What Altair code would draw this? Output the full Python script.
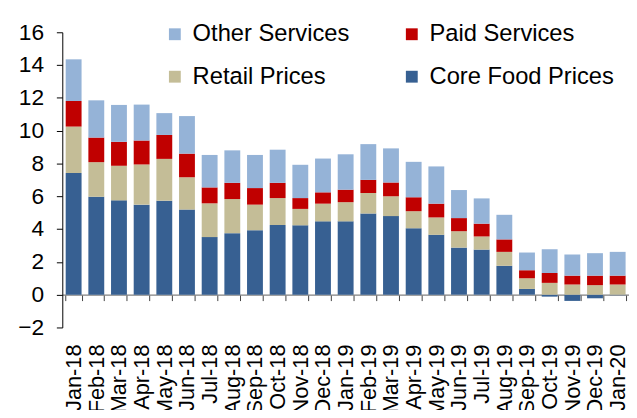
import altair as alt
import pandas as pd

months = ["Jan-18", "Feb-18", "Mar-18", "Apr-18", "May-18", "Jun-18", "Jul-18",
          "Aug-18", "Sep-18", "Oct-18", "Nov-18", "Dec-18", "Jan-19", "Feb-19",
          "Mar-19", "Apr-19", "May-19", "Jun-19", "Jul-19", "Aug-19", "Sep-19",
          "Oct-19", "Nov-19", "Dec-19", "Jan-20"]
core = [7.42, 5.97, 5.75, 5.49, 5.73, 5.19, 3.51, 3.75, 3.93, 4.25, 4.23, 4.47, 4.47,
        4.95, 4.79, 4.05, 3.65, 2.87, 2.75, 1.76, 0.35, -0.12, -0.38, -0.22, -0.03]
retail = [2.83, 2.11, 2.11, 2.45, 2.55, 1.97, 2.06, 2.08, 1.56, 1.64, 1.00, 1.08, 1.17,
          1.25, 1.21, 1.04, 1.06, 1.00, 0.80, 0.85, 0.65, 0.72, 0.62, 0.58, 0.62]
paid = [1.56, 1.50, 1.46, 1.46, 1.46, 1.44, 0.97, 0.99, 1.01, 0.93, 0.66, 0.69, 0.76,
        0.80, 0.84, 0.85, 0.84, 0.80, 0.78, 0.76, 0.49, 0.60, 0.54, 0.58, 0.54]
other = [2.54, 2.27, 2.25, 2.19, 1.33, 2.29, 1.98, 1.98, 2.02, 2.02, 2.03, 2.06, 2.16,
         2.18, 2.08, 2.16, 2.27, 1.71, 1.54, 1.50, 1.08, 1.45, 1.29, 1.37, 1.45]

series_names = ["Core Food Prices", "Retail Prices", "Paid Services", "Other Services"]
series_vals = [core, retail, paid, other]
# legend fills column by column: column 1 = Other, Retail; column 2 = Paid, Core
legend_order = ["Other Services", "Retail Prices", "Paid Services", "Core Food Prices"]
legend_colors = ["#95B3D7", "#C4BD97", "#C00000", "#376092"]

rows = []
for k, (name, vals) in enumerate(zip(series_names, series_vals)):
    for m, v in zip(months, vals):
        rows.append({"month": m, "series": name, "value": v, "ord": k})
df = pd.DataFrame(rows)

W, H = 574, 299
FONT = "Liberation Sans"

bars = alt.Chart(df).mark_bar().encode(
    x=alt.X("month:N", sort=months,
            scale=alt.Scale(paddingInner=0.3, paddingOuter=0.15),
            axis=alt.Axis(title=None, labelAngle=-90, labelFontSize=22, labelFont=FONT,
                          labelColor="#000000", offset=-H * 2 / 18, labelPadding=44,
                          tickBand="extent", tickSize=6, tickColor="#404040",
                          domainColor="#808080", domainWidth=1.3, labelOverlap=False)),
    y=alt.Y("value:Q", stack="zero",
            scale=alt.Scale(domain=[-2, 16], nice=False),
            axis=alt.Axis(title=None, values=list(range(-2, 17, 2)), grid=False,
                          labelFontSize=23, labelFont=FONT, labelColor="#000000",
                          tickSize=6, labelPadding=13, tickColor="#000000",
                          domainColor="#000000")),
    color=alt.Color("series:N",
                    scale=alt.Scale(domain=legend_order, range=legend_colors),
                    legend=alt.Legend(title=None, orient="none", legendX=102, legendY=-10,
                                      columns=2, columnPadding=51, rowPadding=19,
                                      symbolType="square", symbolSize=144,
                                      symbolStrokeWidth=0, labelFontSize=24,
                                      labelFont=FONT, labelColor="#000000",
                                      labelOffset=6, padding=0, labelLimit=400)),
    order=alt.Order("ord:Q"),
)

chart = bars.properties(
    width=W, height=H,
    autosize=alt.AutoSizeParams(type="none"),
    padding={"left": 55, "top": 22, "right": 0, "bottom": 81},
).configure_view(stroke=None)

chart.save("out.html", embed_options={"renderer": "svg", "actions": False})
